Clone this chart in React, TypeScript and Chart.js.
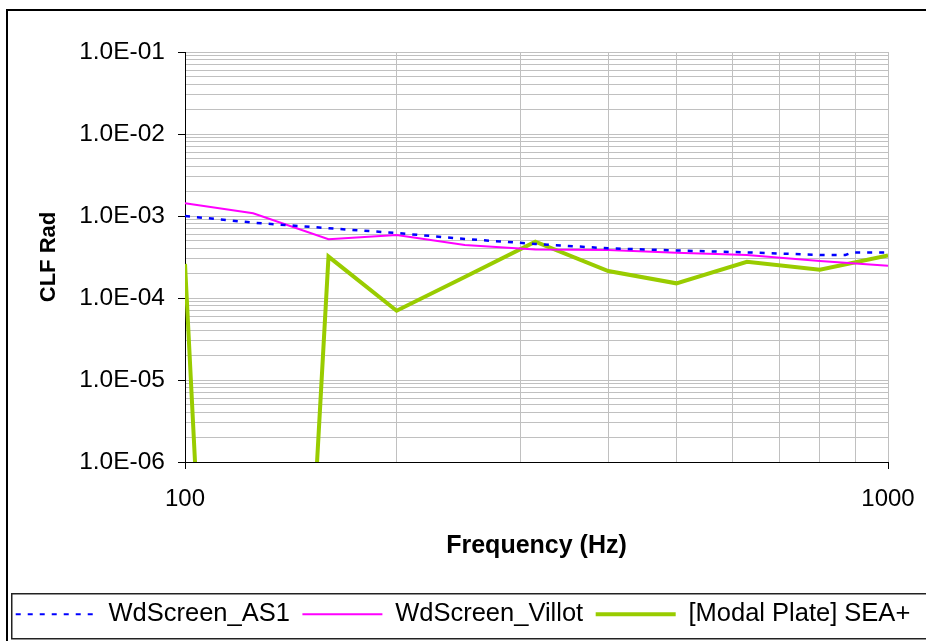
import React, { useEffect, useRef } from 'react';
import { Chart, registerables } from 'chart.js';

Chart.register(...registerables);

// ---- data ----
const bandFreqs = [100, 125, 160, 200, 250, 315, 400, 500, 630, 800, 1000];
const as1Freqs = [100, 125, 160, 200, 250, 315, 400, 500, 630, 800, 870, 890, 1000];
const as1Values = [1.0e-3, 8.3e-4, 7.1e-4, 6.2e-4, 5.25e-4, 4.57e-4, 4.03e-4, 3.8e-4, 3.6e-4, 3.35e-4, 3.35e-4, 3.6e-4, 3.6e-4];
const villotValues = [1.43e-3, 1.08e-3, 5.2e-4, 5.86e-4, 4.43e-4, 3.9e-4, 3.85e-4, 3.57e-4, 3.34e-4, 2.83e-4, 2.48e-4];
const seaValues = [2.6e-4, 1e-20, 3.2e-4, 7.0e-5, 1.8e-4, 4.86e-4, 2.13e-4, 1.51e-4, 2.77e-4, 2.21e-4, 3.3e-4];
const seriesLabels = ['WdScreen_AS1', 'WdScreen_Villot', '[Modal Plate] SEA+'];

const xMajorTicks = [100, 1000];
const xTickLabels = ['100', '1000'];
const xMinorTicks = [200, 300, 400, 500, 600, 700, 800, 900];
const yMajorTicks = [1e-6, 1e-5, 1e-4, 1e-3, 1e-2, 1e-1];
const yTickLabels = ['1.0E-06', '1.0E-05', '1.0E-04', '1.0E-03', '1.0E-02', '1.0E-01'];
const yMinorMultipliers = [2, 3, 4, 5, 6, 7, 8, 9];

const FONT = "'Liberation Sans', Arial, sans-serif";

const near = (a: number, b: number) => Math.abs(a - b) / Math.abs(b) < 1e-6;
const xMajorIndex = (v: number) => xMajorTicks.findIndex((m) => near(v, m));
const yMajorIndex = (v: number) => yMajorTicks.findIndex((m) => near(v, m));

const allXTicks = [...xMajorTicks, ...xMinorTicks].sort((a, b) => a - b);
const allYTicks: number[] = [];
yMajorTicks.forEach((m, i) => {
  allYTicks.push(m);
  if (i < yMajorTicks.length - 1) yMinorMultipliers.forEach((k) => allYTicks.push(m * k));
});

const framePlugin = {
  id: 'frames',
  afterDraw(chart: any) {
    const ctx = chart.ctx;
    ctx.save();
    ctx.strokeStyle = '#000';
    ctx.lineWidth = 2;
    ctx.strokeRect(7, 10, 2000, 2000);
    ctx.lineWidth = 1.5;
    ctx.strokeStyle = '#222';
    ctx.strokeRect(11.75, 593.75, 2000, 45);
    ctx.restore();
  },
};

export default function App() {
  const ref = useRef<HTMLCanvasElement | null>(null);
  useEffect(() => {
    if (!ref.current) return;
    const chart = new Chart(ref.current, {
      type: 'line',
      data: {
        datasets: [
          {
            label: seriesLabels[0],
            data: as1Freqs.map((f, i) => ({ x: f, y: as1Values[i] })),
            borderColor: '#0000ff',
            backgroundColor: '#0000ff',
            borderWidth: 2.5,
            borderDash: [5, 7],
            pointRadius: 0,
            tension: 0,
            clip: 0,
          },
          {
            label: seriesLabels[1],
            data: bandFreqs.map((f, i) => ({ x: f, y: villotValues[i] })),
            borderColor: '#ff00ff',
            backgroundColor: '#ff00ff',
            borderWidth: 2,
            pointRadius: 0,
            tension: 0,
            clip: 0,
          },
          {
            label: seriesLabels[2],
            data: bandFreqs.map((f, i) => ({ x: f, y: seaValues[i] })),
            borderColor: '#99cc00',
            backgroundColor: '#99cc00',
            borderWidth: 4,
            pointRadius: 0,
            tension: 0,
            clip: 0,
          },
        ],
      },
      options: {
        responsive: false,
        animation: false,
        events: [],
        layout: { padding: { top: 52, left: 0, right: 0, bottom: 4 } },
        scales: {
          x: {
            type: 'logarithmic',
            position: 'bottom',
            min: 100,
            max: 1000,
            afterBuildTicks: (s: any) => {
              s.ticks = allXTicks.map((v) => ({ value: v }));
            },
            afterFit: (s: any) => {
              s.height = 127;
              s.paddingLeft = 0;
              s.paddingRight = 0;
            },
            ticks: {
              autoSkip: false,
              maxRotation: 0,
              padding: 16,
              color: '#000',
              font: { family: FONT, size: 24 },
              callback: (v: any) => {
                const i = xMajorIndex(Number(v));
                return i >= 0 ? xTickLabels[i] : '';
              },
            },
            grid: {
              z: -1,
              color: '#c0c0c0',
              lineWidth: 1,
              tickLength: 7,
              tickColor: (c: any) => (c.tick && xMajorIndex(c.tick.value) >= 0 ? '#000' : 'rgba(0,0,0,0)'),
            },
            border: { color: '#000', width: 1 },
            title: {
              display: true,
              text: 'Frequency (Hz)',
              color: '#000',
              font: { family: FONT, size: 25, weight: 'bold' },
              padding: { top: 0, bottom: 28 },
            },
          },
          y: {
            type: 'logarithmic',
            position: 'left',
            min: 1e-6,
            max: 1e-1,
            afterBuildTicks: (s: any) => {
              s.ticks = allYTicks.map((v) => ({ value: v }));
            },
            afterFit: (s: any) => {
              s.width = 185;
              s.paddingTop = 0;
              s.paddingBottom = 0;
            },
            ticks: {
              autoSkip: false,
              padding: 13,
              color: '#000',
              font: { family: FONT, size: 24.5 },
              callback: (v: any) => {
                const i = yMajorIndex(Number(v));
                return i >= 0 ? yTickLabels[i] : '';
              },
            },
            grid: {
              z: -1,
              color: '#c0c0c0',
              lineWidth: 1,
              tickLength: 7,
              tickColor: (c: any) => (c.tick && yMajorIndex(c.tick.value) >= 0 ? '#000' : 'rgba(0,0,0,0)'),
            },
            border: { color: '#000', width: 1 },
            title: {
              display: true,
              text: 'CLF Rad',
              color: '#000',
              font: { family: FONT, size: 22, weight: 'bold' },
              padding: { top: 36, bottom: 0 },
            },
          },
          yRight: {
            type: 'linear',
            position: 'right',
            display: true,
            grid: { display: false, drawTicks: false },
            border: { display: false },
            ticks: { display: false },
            afterFit: (s: any) => {
              s.width = 38;
              s.paddingTop = 0;
              s.paddingBottom = 0;
            },
          },
        },
        plugins: {
          legend: {
            display: true,
            position: 'bottom',
            labels: {
              usePointStyle: true,
              pointStyle: 'line',
              pointStyleWidth: 80,
              boxHeight: 25.5,
              padding: 12.5,
              color: '#000',
              font: { family: FONT, size: 25.5 },
              generateLabels: (chart: any) => {
                const items = Chart.defaults.plugins.legend.labels.generateLabels(chart);
                items.forEach((it: any) => {
                  const ds = chart.data.datasets[it.datasetIndex];
                  it.lineDash = ds.borderDash || [];
                  it.lineWidth = ds.borderDash ? 2 : ds.borderWidth;
                  it.strokeStyle = ds.borderColor;
                  it.lineCap = 'butt';
                });
                return items;
              },
            },
          },
          tooltip: { enabled: false },
        },
      } as any,
      plugins: [framePlugin],
    });
    return () => chart.destroy();
  }, []);

  return (
    <div style={{ position: 'absolute', left: 0, top: 0, width: 926, height: 641, background: '#fff' }}>
      <canvas ref={ref} width={926} height={641} style={{ display: 'block' }} />
    </div>
  );
}
